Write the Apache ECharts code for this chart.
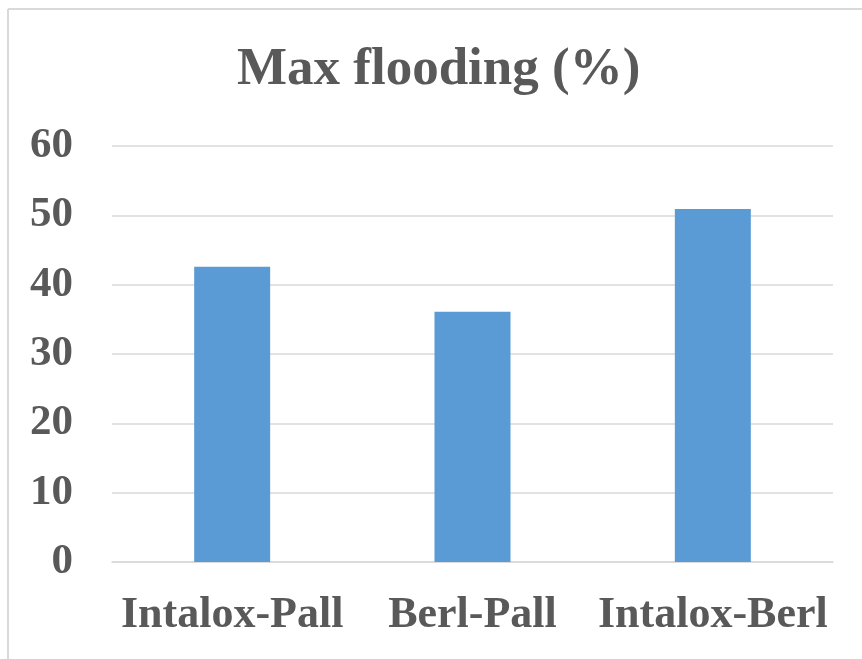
<!DOCTYPE html>
<html>
<head>
<meta charset="utf-8">
<script src="https://cdn.jsdelivr.net/npm/echarts@6/dist/echarts.min.js"></script>
<style>
  html, body { margin: 0; padding: 0; background: #ffffff; }
  #chart { width: 862px; height: 659px; }
</style>
</head>
<body>
<div id="chart"></div>
<script>
// Packing pairs and their maximum flooding percentage
const categories = ['Intalox-Pall', 'Berl-Pall', 'Intalox-Berl'];
const maxFlooding = [42.6, 36.1, 50.9];
const yTicks = { min: 0, max: 60, interval: 10 };

const textColor = '#595959';
const serif = '"Liberation Serif", "Times New Roman", serif';

const chart = echarts.init(document.getElementById('chart'), null, { renderer: 'canvas' });

chart.setOption({
  backgroundColor: '#ffffff',
  animation: false,
  title: {
    text: 'Max flooding (%)',
    left: 237,
    top: 44,
    padding: 0,
    textStyle: {
      fontFamily: serif,
      fontWeight: 'bold',
      fontSize: 53,
      color: textColor
    }
  },
  graphic: [
    // chart frame: left and top edges
    { type: 'line', shape: { x1: 8, y1: 9, x2: 8, y2: 659 }, style: { stroke: '#d9d9d9', lineWidth: 2 } },
    { type: 'line', shape: { x1: 8, y1: 9, x2: 862, y2: 9 }, style: { stroke: '#d9d9d9', lineWidth: 2 } }
  ],
  grid: { left: 112, right: 29, top: 146, bottom: 97, containLabel: false },
  xAxis: {
    type: 'category',
    data: categories,
    axisLine: { show: true, lineStyle: { color: '#d9d9d9', width: 1.5 } },
    axisTick: { show: false },
    axisLabel: {
      interval: 0,
      hideOverlap: false,
      margin: 32,
      fontFamily: serif,
      fontWeight: 'bold',
      fontSize: 44,
      color: textColor
    }
  },
  yAxis: {
    type: 'value',
    min: yTicks.min,
    max: yTicks.max,
    interval: yTicks.interval,
    axisLine: { show: false },
    axisTick: { show: false },
    splitLine: { lineStyle: { color: '#d9d9d9', width: 1.5 } },
    axisLabel: {
      margin: 39,
      padding: [6, 0, 0, 0],
      fontFamily: serif,
      fontWeight: 'bold',
      fontSize: 43,
      color: textColor
    }
  },
  series: [{
    type: 'bar',
    data: maxFlooding,
    barWidth: 76,
    itemStyle: { color: '#5b9bd5' }
  }]
});
</script>
</body>
</html>
